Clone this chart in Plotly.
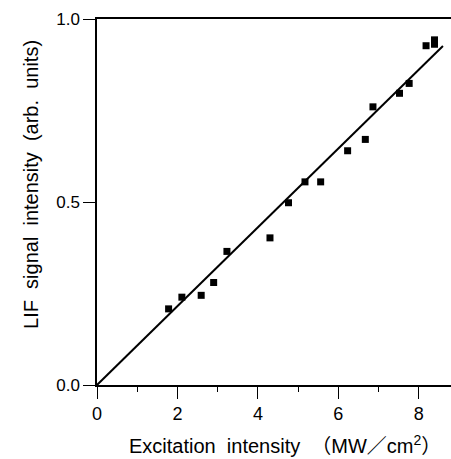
import plotly.graph_objects as go

# Measured LIF signal vs. excitation intensity
excitation = [1.78, 2.11, 2.59, 2.90, 3.23, 4.30, 4.76, 5.17, 5.56,
              6.23, 6.67, 6.86, 7.52, 7.76, 8.18, 8.39, 8.39]
lif_signal = [0.208, 0.240, 0.245, 0.280, 0.365, 0.402, 0.498, 0.555, 0.555,
              0.640, 0.671, 0.760, 0.797, 0.824, 0.927, 0.943, 0.931]

# Linear fit through the origin
fit_x = [0.0, 8.60]
fit_y = [0.0, 0.926]

x_ticks = [0, 2, 4, 6, 8]
x_minor = [1, 3, 5, 7]
y_ticks = [0.0, 0.5, 1.0]
y_tick_text = ["0.0", "0.5", "1.0"]

x_title = "Excitation  intensity  （MW／cm<sup>2</sup>）"
y_title = "LIF  signal  intensity  (arb.  units)"

font_family = "Liberation Sans, Arial, Noto Sans CJK JP, sans-serif"

fig = go.Figure()
fig.add_trace(go.Scatter(
    x=fit_x, y=fit_y, mode="lines",
    line=dict(color="black", width=2),
    showlegend=False, hoverinfo="skip",
))
fig.add_trace(go.Scatter(
    x=excitation, y=lif_signal, mode="markers",
    marker=dict(symbol="square", size=7, color="black"),
    showlegend=False,
))

fig.update_layout(
    width=451, height=459,
    margin=dict(l=97, r=0, t=19, b=74),
    paper_bgcolor="white", plot_bgcolor="white",
    font=dict(family=font_family, size=17, color="black"),
    xaxis=dict(
        range=[0, 8.8], tickvals=x_ticks, ticktext=[str(v) for v in x_ticks],
        showline=True, linecolor="black", linewidth=1.5, mirror=True,
        ticks="outside", ticklen=12, tickwidth=1.2, tickcolor="black",
        minor=dict(tickvals=x_minor, ticks="outside", ticklen=5,
                   tickwidth=1, tickcolor="black"),
        showgrid=False, zeroline=False,
        tickfont=dict(size=18),
    ),
    yaxis=dict(
        range=[0, 1.0], tickvals=y_ticks, ticktext=y_tick_text,
        showline=True, linecolor="black", linewidth=1.5, mirror=False,
        ticks="outside", ticklen=12, tickwidth=1.2, tickcolor="black",
        showgrid=False, zeroline=False,
        tickfont=dict(size=17),
    ),
    annotations=[
        dict(text=x_title, xref="paper", yref="paper",
             x=0.53, y=-0.122, xanchor="center", yanchor="top",
             showarrow=False, font=dict(size=20)),
        dict(text=y_title, xref="paper", yref="paper", textangle=-90,
             x=-0.185, y=0.548, xanchor="center", yanchor="middle",
             showarrow=False, font=dict(size=20)),
    ],
)

fig.write_html("out.html")
